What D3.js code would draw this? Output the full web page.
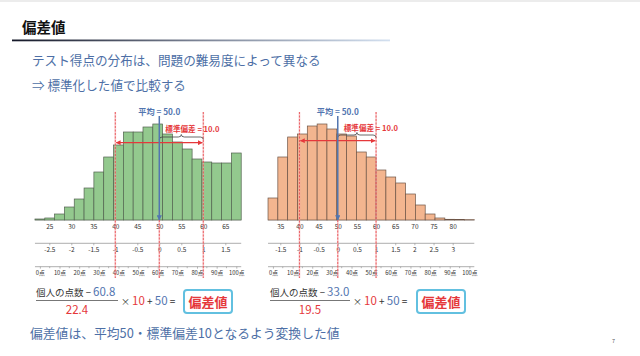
<!DOCTYPE html>
<html><head><meta charset="utf-8">
<script src="https://cdn.jsdelivr.net/npm/d3@7"></script>
<style>
body{margin:0;background:#fff}
svg{display:block}
text{font-family:"Noto Sans CJK JP","Noto Sans",sans-serif}
</style>
</head><body>
<svg id="c" width="640" height="356"></svg>
<script>
// ---- data ----
const binCenters = [0,5,10,15,20,25,30,35,40,45,50,55,60,65,70,75,80,85,90,95,100]; // raw score bins (points)
const leftFreq  = [1,2,6,13,21,32,48,63,75,88,88,93,96,86,78,71,61,58,57,57,67];
const rightFreq = [22,63,83,86,94,96,91,86,84,68,63,50,43,37,26,15,6,2,0.7,0.4,0.3];
const leftMean = 60.8, leftSD = 22.4;
const rightMean = 33.0, rightSD = 19.5;
const devTicksLeft  = [25,30,35,40,45,50,55,60,65];
const devTicksRight = [35,40,45,50,55,60,65,70,75,80];
const zTicksLeft  = [-2.5,-2,-1.5,-1,-0.5,0,0.5,1,1.5];
const zTicksRight = [-1.5,-1,-0.5,0,0.5,1,1.5,2,2.5,3];
const pointTicks = [0,10,20,30,40,50,60,70,80,90,100];
const pointMinor = [5,15,25,35,45,55,65,75,85,95];
const meanDev = 50, sdDev = 10;

const svg = d3.select("#c");
const BLUE = "#5275b0", RED = "#e5383b", TEXTBLUE = "#4d6fa6";

// page frame
svg.append("rect").attr("x",0).attr("y",0).attr("width",640).attr("height",356).attr("fill","#fff");
svg.append("rect").attr("x",0).attr("y",0).attr("width",640).attr("height",2).attr("fill","#ececec");

// title
svg.append("text").attr("x",22).attr("y",33).attr("font-size",14.5).attr("font-weight","bold")
  .attr("fill","#111").text("偏差値");
const grad = svg.append("defs").append("linearGradient").attr("id","tg");
grad.append("stop").attr("offset","0%").attr("stop-color","#141828");
grad.append("stop").attr("offset","50%").attr("stop-color","#7d8597");
grad.append("stop").attr("offset","100%").attr("stop-color","#d3e0f0");
svg.append("rect").attr("x",12).attr("y",39.5).attr("width",378).attr("height",1.8).attr("fill","url(#tg)");

svg.append("text").attr("x",32).attr("y",65).attr("font-size",12.6).attr("fill",TEXTBLUE)
  .text("テスト得点の分布は、問題の難易度によって異なる");
svg.append("text").attr("x",32).attr("y",90).attr("font-size",12.6).attr("fill",TEXTBLUE)
  .text("⇒ 標準化した値で比較する");

// markers
const defs = svg.select("defs");
defs.append("marker").attr("id","ra").attr("viewBox","0 0 10 10").attr("refX",9).attr("refY",5)
  .attr("markerWidth",4).attr("markerHeight",4).attr("orient","auto-start-reverse")
  .append("path").attr("d","M0,0L10,5L0,10z").attr("fill",RED);
defs.append("marker").attr("id","ba").attr("viewBox","0 0 10 10").attr("refX",9).attr("refY",5)
  .attr("markerWidth",3.5).attr("markerHeight",3.5).attr("orient","auto")
  .append("path").attr("d","M0,0L10,5L0,10z").attr("fill",BLUE);

const baseY = 220;
const y = d3.scaleLinear().domain([0,100]).range([baseY, 120]);

function panel(cfg){
  const g = svg.append("g");
  const x = d3.scaleLinear().domain(cfg.devDomain).range(cfg.devRange);
  const dev = s => meanDev + (s - cfg.mean)/cfg.sd*sdDev;
  const binW = 5/cfg.sd*sdDev;
  const left = x(dev(binCenters[0]) - binW/2), right = x(dev(binCenters[binCenters.length-1]) + binW/2);

  g.append("line").attr("x1",left).attr("x2",right).attr("y1",baseY).attr("y2",baseY)
    .attr("stroke","#bbb").attr("stroke-width",0.8);
  g.selectAll("rect.bar").data(binCenters).join("rect").attr("class","bar")
    .attr("x", c => x(dev(c) - binW/2))
    .attr("width", x(binW) - x(0))
    .attr("y", (c,i) => y(cfg.freq[i]))
    .attr("height", (c,i) => baseY - y(cfg.freq[i]))
    .attr("fill", cfg.fill).attr("stroke", cfg.stroke).attr("stroke-width",0.7);

  // axis 1: deviation scores
  const a1 = g.append("g").attr("transform",`translate(0,${baseY})`)
    .call(d3.axisBottom(x).tickValues(cfg.devTicks).tickSize(0).tickPadding(4));
  a1.select(".domain").remove();
  // axis 2: z
  const zx = d3.scaleLinear().domain([-1,1]).range([x(meanDev-sdDev), x(meanDev+sdDev)]);
  const a2 = g.append("g").attr("transform","translate(0,243.3)")
    .call(d3.axisBottom(zx).tickValues(cfg.zTicks).tickSize(2).tickPadding(2).tickFormat(d => String(d)));
  a2.select(".domain").attr("d",`M${left},0H${right}`);
  // axis 3: raw points
  const px = d3.scaleLinear().domain([0,100]).range([x(dev(0)), x(dev(100))]);
  const a3 = g.append("g").attr("transform","translate(0,266.7)")
    .call(d3.axisBottom(px).tickValues(pointTicks).tickSize(2).tickPadding(2).tickFormat(d => d+"点"));
  a3.select(".domain").attr("d",`M${left},0H${right}`);
  a3.selectAll(".minor").data(pointMinor).join("line").attr("class","minor")
    .attr("x1",d=>px(d)).attr("x2",d=>px(d)).attr("y1",0).attr("y2",1.5).attr("stroke","#888").attr("stroke-width",0.6);
  [a1,a2,a3].forEach(a=>{
    a.selectAll("text").attr("font-size",6.5).attr("fill","#333").attr("font-family","Roboto, 'Noto Sans CJK JP', sans-serif");
    a.selectAll(".tick line").attr("stroke","#888").attr("stroke-width",0.6);
    a.select(".domain").attr("stroke","#999").attr("stroke-width",0.8);
  });
  a3.selectAll("text").attr("font-size",5.8);

  // red dashed reference lines
  [[meanDev-sdDev,112],[meanDev+sdDev,112],[meanDev,baseY]].forEach(([d,top])=>{
    g.append("line").attr("x1",x(d)).attr("x2",x(d)).attr("y1",top).attr("y2",278)
      .attr("stroke","#f4a0a4").attr("stroke-width",1.6).attr("opacity",0.6);
    g.append("line").attr("x1",x(d)).attr("x2",x(d)).attr("y1",top).attr("y2",278)
      .attr("stroke",RED).attr("stroke-width",0.7).attr("stroke-dasharray","2,1.5");
  });

  // SD arrow
  g.append("line").attr("x1",x(meanDev-sdDev)+1).attr("x2",x(meanDev+sdDev)-1)
    .attr("y1",cfg.arrowY).attr("y2",cfg.arrowY).attr("stroke",RED).attr("stroke-width",1.2)
    .attr("marker-start","url(#ra)").attr("marker-end","url(#ra)");
  // brace
  const bx1 = x(meanDev), bx2 = x(meanDev+sdDev), bm = (bx1+bx2)/2, by = cfg.braceY;
  g.append("path").attr("d",
    `M${bx1},${by+2.5} Q${bx1},${by} ${bx1+3},${by} L${bm-3},${by} Q${bm},${by} ${bm},${by-2.5} Q${bm},${by} ${bm+3},${by} L${bx2-3},${by} Q${bx2},${by} ${bx2},${by+2.5}`)
    .attr("fill","none").attr("stroke","#444").attr("stroke-width",0.8);
  g.append("text").attr("x",x(meanDev)+6).attr("y",cfg.sdLabelY).attr("font-size",7.6).attr("font-weight","bold")
    .attr("fill",RED).text("標準偏差 = 10.0");

  // mean line
  g.append("line").attr("x1",x(meanDev)).attr("x2",x(meanDev)).attr("y1",116).attr("y2",baseY)
    .attr("stroke",BLUE).attr("stroke-width",1.5).attr("marker-end","url(#ba)");
  g.append("text").attr("x",x(meanDev)).attr("y",115).attr("text-anchor","middle")
    .attr("font-size",8.2).attr("font-weight","bold").attr("fill",BLUE).text("平均 = 50.0");
}

panel({devDomain:[25,65], devRange:[49.3,225.3], mean:leftMean, sd:leftSD, freq:leftFreq,
  fill:"#93c98e", stroke:"#52624f", devTicks:devTicksLeft, zTicks:zTicksLeft,
  arrowY:142.7, braceY:137, sdLabelY:132});
panel({devDomain:[35,80], devRange:[280.3,452.7], mean:rightMean, sd:rightSD, freq:rightFreq,
  fill:"#f3b58f", stroke:"#6d5446", devTicks:devTicksRight, zTicks:zTicksRight,
  arrowY:140.7, braceY:135, sdLabelY:131});

// formulas
function formula(x0, mean, sd, lineW, boxX){
  const g = svg.append("g");
  const t = g.append("text").attr("x",x0).attr("y",296);
  t.append("tspan").attr("font-size",9.5).attr("fill","#333").text("個人の点数 − ");
  t.append("tspan").attr("font-size",11.5).attr("fill",BLUE).text(mean.toFixed(1));
  g.append("line").attr("x1",x0).attr("x2",x0+lineW).attr("y1",300.5).attr("y2",300.5).attr("stroke","#777").attr("stroke-width",1);
  g.append("text").attr("x",x0+lineW/2).attr("y",314).attr("text-anchor","middle").attr("font-size",11.5).attr("fill",RED).text(sd.toFixed(1));
  const t2 = g.append("text").attr("x",x0+lineW+3).attr("y",305);
  t2.append("tspan").attr("font-size",9).attr("fill","#333").text("× ");
  t2.append("tspan").attr("font-size",11.5).attr("fill",RED).text("10");
  t2.append("tspan").attr("font-size",10).attr("fill","#333").text(" + ");
  t2.append("tspan").attr("font-size",11.5).attr("fill",BLUE).text("50");
  t2.append("tspan").attr("font-size",10).attr("fill","#333").text(" =");
  g.append("rect").attr("x",boxX).attr("y",290).attr("width",48).attr("height",23).attr("rx",3)
    .attr("fill","#fff").attr("stroke","#62c0e0").attr("stroke-width",2);
  g.append("text").attr("x",boxX+24).attr("y",306.5).attr("text-anchor","middle").attr("font-size",13)
    .attr("font-weight","bold").attr("fill",RED).text("偏差値");
}
formula(36, leftMean, leftSD, 82, 184);
formula(270, rightMean, rightSD, 80, 417);

svg.append("text").attr("x",30).attr("y",338).attr("font-size",12.8).attr("fill",TEXTBLUE)
  .text("偏差値は、平均50・標準偏差10となるよう変換した値");
svg.append("text").attr("x",612).attr("y",343).attr("font-size",5.5).attr("fill","#555").text("7");
</script>
</body></html>
